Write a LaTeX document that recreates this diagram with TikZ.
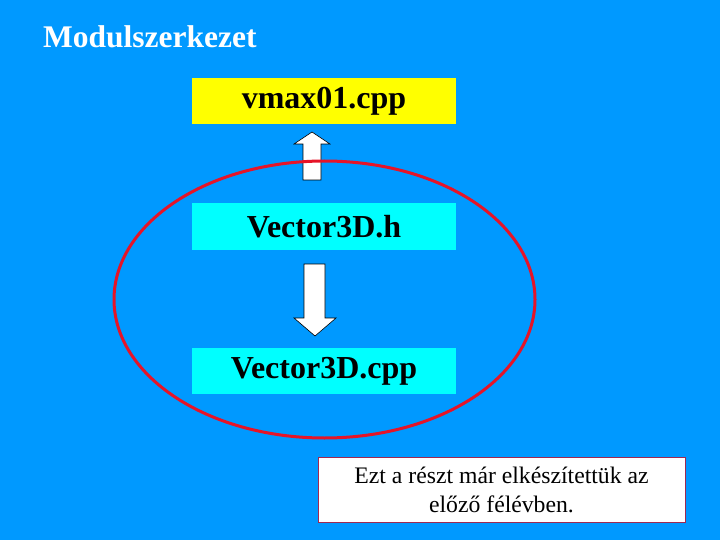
\documentclass[tikz,border=0pt]{standalone}
\usepackage{fontspec}
\setmainfont{Liberation Serif}
\usepackage{xcolor}
\usepackage{tikz}

\definecolor{bgblue}{RGB}{0,153,255}
\definecolor{boxcyan}{RGB}{0,255,255}
\definecolor{boxyellow}{RGB}{255,255,0}
\definecolor{ovalred}{RGB}{230,20,40}
\definecolor{noteborder}{RGB}{160,40,80}

\tikzset{
    filebox/.style={minimum width=264pt, minimum height=46pt, inner sep=0pt,
        font=\fontsize{32}{36}\selectfont\bfseries},
    blockarrow/.style={fill=white, draw=black, line width=0.6pt}
}

\begin{document}
\begin{tikzpicture}[x=1pt, y=-1pt]
    % Draw background
    \fill[bgblue] (0,0) rectangle (720,540);

    % Title
    \node[anchor=base west, text=white, inner sep=0pt,
          font=\fontsize{31.5}{36}\selectfont\bfseries] (title) at (43,48) {Modulszerkezet};

    % Draw file boxes
    \node[filebox, fill=boxyellow] (main) at (324,101) {vmax01.cpp};
    \node[filebox, fill=boxcyan] (header) at (324,226.5) {Vector3D.h};
    \node[filebox, fill=boxcyan] (source) at (324,371) {Vector3D.cpp};

    % Draw block arrows
    \draw[blockarrow] (303,180) -- (303,144) -- (294,144) -- (312,132)
        -- (330,144) -- (321,144) -- (321,180) -- cycle;
    \draw[blockarrow] (304,264) -- (325,264) -- (325,318) -- (336,318)
        -- (315,336) -- (294,318) -- (304,318) -- cycle;

    % Draw red oval
    \draw[ovalred, line width=3pt] (324.5,299.5) ellipse (210.5 and 138.5);

    % Note
    \node[draw=noteborder, fill=white, line width=0.8pt, minimum width=367pt,
          minimum height=65pt, align=center, inner sep=0pt,
          font=\fontsize{23.7}{29}\selectfont] (note) at (501.5,489.5)
          {Ezt a részt már elkészítettük az\\előző félévben.};
\end{tikzpicture}
\end{document}
